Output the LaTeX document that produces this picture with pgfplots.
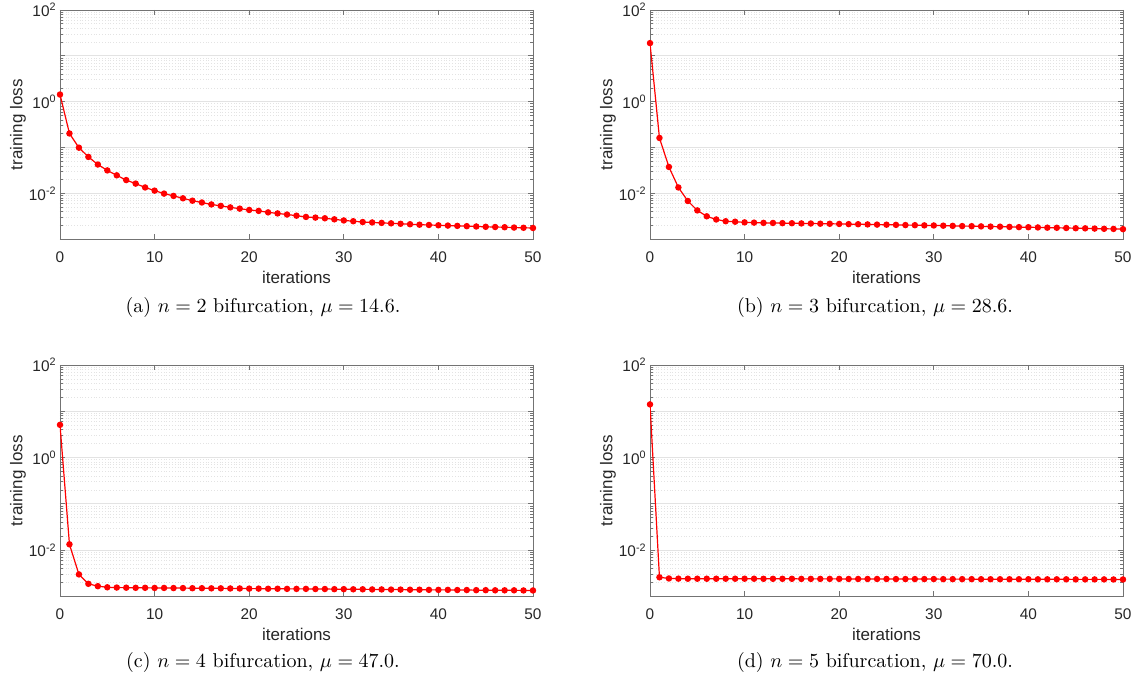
\documentclass[border=0pt]{standalone}
\usepackage{fontspec}
\usepackage{pgfplots}
\usepackage{pgfplotstable}
\pgfplotsset{compat=1.18}
\newfontfamily\arial{Liberation Sans}

\definecolor{axgray}{gray}{0.45}
\definecolor{txtgray}{gray}{0.15}

% training loss per iteration
\pgfplotstableread{
it loss
0 1.44
1 0.204
2 0.100
3 0.063
4 0.043
5 0.032
6 0.025
7 0.0197
8 0.0165
9 0.0136
10 0.0116
11 0.0100
12 0.0089
13 0.0079
14 0.0070
15 0.0064
16 0.0058
17 0.0054
18 0.0050
19 0.0047
20 0.0044
21 0.0042
22 0.0039
23 0.0037
24 0.0035
25 0.0033
26 0.0031
27 0.0030
28 0.0029
29 0.00275
30 0.0026
31 0.0025
32 0.0024
33 0.00235
34 0.0023
35 0.00225
36 0.0022
37 0.00215
38 0.0021
39 0.00207
40 0.00204
41 0.00201
42 0.00198
43 0.00195
44 0.00192
45 0.00189
46 0.00187
47 0.00185
48 0.00182
49 0.0018
50 0.00178
}\lossA

\pgfplotstableread{
it loss
0 19
1 0.163
2 0.038
3 0.0136
4 0.0069
5 0.0043
6 0.0032
7 0.00273
8 0.0025
9 0.00244
10 0.00236
11 0.00233
12 0.00230
13 0.00229
14 0.00227
15 0.00226
16 0.00224
17 0.00223
18 0.00221
19 0.00220
20 0.00218
21 0.00216
22 0.00215
23 0.00213
24 0.00211
25 0.00210
26 0.00208
27 0.00206
28 0.00205
29 0.00203
30 0.00202
31 0.00200
32 0.00198
33 0.00196
34 0.00195
35 0.00193
36 0.00191
37 0.00190
38 0.00188
39 0.00186
40 0.00185
41 0.00183
42 0.00181
43 0.00180
44 0.00178
45 0.00176
46 0.00175
47 0.00173
48 0.00171
49 0.00170
50 0.00168
}\lossB

\pgfplotstableread{
it loss
0 5.1
1 0.0134
2 0.0030
3 0.00188
4 0.00167
5 0.00158
6 0.00156
7 0.00155
8 0.00154
9 0.00154
10 0.00153
11 0.00153
12 0.00152
13 0.00152
14 0.00151
15 0.00151
16 0.00150
17 0.00150
18 0.00149
19 0.00149
20 0.00148
21 0.00148
22 0.00147
23 0.00147
24 0.00146
25 0.00146
26 0.00146
27 0.00145
28 0.00145
29 0.00144
30 0.00144
31 0.00143
32 0.00143
33 0.00142
34 0.00142
35 0.00141
36 0.00141
37 0.00140
38 0.00140
39 0.00139
40 0.00139
41 0.00139
42 0.00138
43 0.00138
44 0.00137
45 0.00137
46 0.00136
47 0.00136
48 0.00136
49 0.00135
50 0.00135
}\lossC

\pgfplotstableread{
it loss
0 14.1
1 0.0026
2 0.00245
3 0.00243
4 0.00242
5 0.00242
6 0.00242
7 0.00242
8 0.00242
9 0.00242
10 0.00242
11 0.00242
12 0.00241
13 0.00241
14 0.00241
15 0.00241
16 0.00240
17 0.00240
18 0.00240
19 0.00240
20 0.00240
21 0.00239
22 0.00239
23 0.00239
24 0.00239
25 0.00239
26 0.00238
27 0.00238
28 0.00238
29 0.00238
30 0.00238
31 0.00237
32 0.00237
33 0.00237
34 0.00237
35 0.00236
36 0.00236
37 0.00236
38 0.00236
39 0.00236
40 0.00236
41 0.00235
42 0.00235
43 0.00235
44 0.00235
45 0.00234
46 0.00234
47 0.00234
48 0.00234
49 0.00233
50 0.00233
}\lossD

\pgfplotsset{
  lossaxis/.style={
    scale only axis,
    width=236.5pt,
    anchor=south west,
    xmin=0, xmax=50,
    ymin=1e-3, ymax=1e2,
    xtick={0,10,...,50},
    ytick={1e-3,1e-2,1e-1,1,10,100},
    yticklabels={,10\textsuperscript{-2},,10\textsuperscript{0},,10\textsuperscript{2}},
    minor ytick={2e-3,3e-3,4e-3,5e-3,6e-3,7e-3,8e-3,9e-3,
                 2e-2,3e-2,4e-2,5e-2,6e-2,7e-2,8e-2,9e-2,
                 2e-1,3e-1,4e-1,5e-1,6e-1,7e-1,8e-1,9e-1,
                 2,3,4,5,6,7,8,9,20,30,40,50,60,70,80,90},
    ymajorgrids, yminorgrids,
    major grid style={gray!22, line width=0.4pt},
    minor grid style={gray!22, densely dotted, line width=0.4pt},
    tick align=inside,
    major tick length=2.5pt,
    minor tick length=1.5pt,
    axis line style={axgray, line width=0.4pt},
    every tick/.style={axgray, line width=0.4pt},
    /pgf/number format/assume math mode=true,
    tick label style={font=\arial\fontsize{7.7}{8}\selectfont, text=txtgray},
    xticklabel style={anchor=base, yshift=-11.5pt},
    yticklabel style={anchor=east, inner sep=1.5pt},
    label style={font=\arial\fontsize{8.5}{9}\selectfont, text=txtgray},
    xlabel={iterations},
    ylabel={training loss},
    xlabel style={at={(axis description cs:0.5,0)}, anchor=center, yshift=-18.75pt},
    ylabel style={at={(axis description cs:0,0.5)}, anchor=center, yshift=21pt},
  },
  lossline/.style={red, line width=0.6pt, mark=*, mark size=1.3pt,
    mark options={fill=red, draw=red}},
}

\begin{document}
\begin{tikzpicture}
\path[use as bounding box] (0,0) rectangle (566pt,339.5pt);

\begin{axis}[ymode=log, lossaxis, at={(30pt,219.75pt)}, height=114.75pt]
\addplot[lossline] table[x=it, y=loss] {\lossA};
\end{axis}

\begin{axis}[ymode=log, lossaxis, at={(325pt,219.75pt)}, height=114.75pt]
\addplot[lossline] table[x=it, y=loss] {\lossB};
\end{axis}

\begin{axis}[ymode=log, lossaxis, at={(30pt,41.25pt)}, height=115.75pt]
\addplot[lossline] table[x=it, y=loss] {\lossC};
\end{axis}

\begin{axis}[ymode=log, lossaxis, at={(325pt,41.25pt)}, height=115.75pt]
\addplot[lossline] table[x=it, y=loss] {\lossD};
\end{axis}

\node at (131.5pt,185.5pt) {(a) $n=2$ bifurcation, $\mu=14.6$.};
\node at (437.5pt,185.5pt) {(b) $n=3$ bifurcation, $\mu=28.6$.};
\node at (131.5pt,8pt) {(c) $n=4$ bifurcation, $\mu=47.0$.};
\node at (437.5pt,8pt) {(d) $n=5$ bifurcation, $\mu=70.0$.};
\end{tikzpicture}
\end{document}
